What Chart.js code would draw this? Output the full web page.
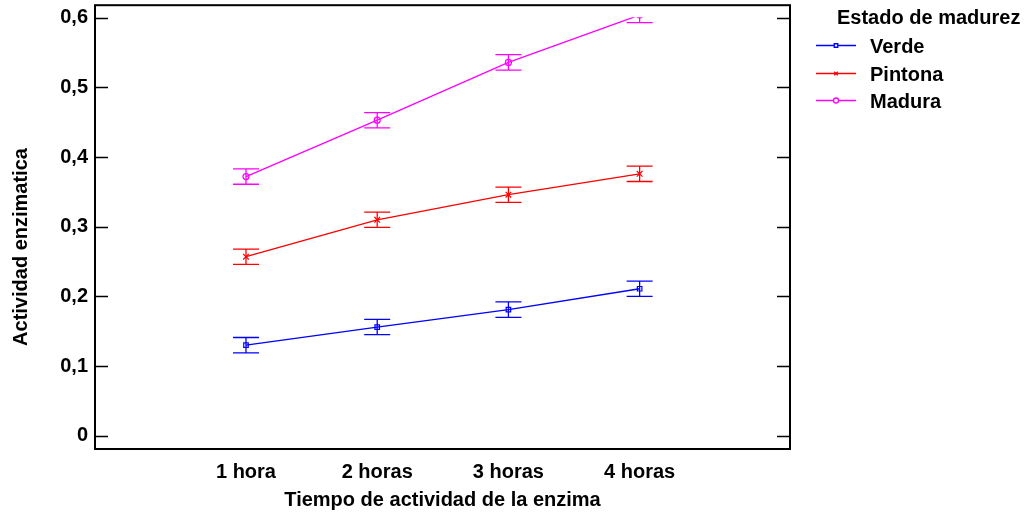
<!DOCTYPE html>
<html>
<head>
<meta charset="utf-8">
<script src="https://cdn.jsdelivr.net/npm/chart.js@4.4.1/dist/chart.umd.min.js"></script>
<style>
  html, body { margin: 0; padding: 0; background: #ffffff; }
  #wrap { width: 1036px; height: 521px; position: relative; }
</style>
</head>
<body>
<div id="wrap"><canvas id="c" width="1036" height="521"></canvas></div>
<script>
// Categories (x axis) and tick labels
const categories = ['1 hora', '2 horas', '3 horas', '4 horas'];
const yTickValues = [0, 0.1, 0.2, 0.3, 0.4, 0.5, 0.6];
const yTickLabels = ['0', '0,1', '0,2', '0,3', '0,4', '0,5', '0,6'];

// Series: mean enzymatic activity per ripeness stage
const seriesNames = ['Verde', 'Pintona', 'Madura'];
const verde   = [0.130, 0.156, 0.181, 0.211];
const pintona = [0.257, 0.310, 0.346, 0.376];
const madura  = [0.372, 0.453, 0.536, 0.604];

// Half-width of the interval around each mean
const verdeErr   = [0.011, 0.011, 0.011, 0.011];
const pintonaErr = [0.011, 0.011, 0.011, 0.011];
const maduraErr  = [0.011, 0.011, 0.011, 0.011];

const FONT = "'Liberation Sans', Arial, sans-serif";

function toPoints(vals, errs) {
  return vals.map((v, i) => ({ x: i, y: v, err: errs[i] }));
}

const colors = ['#0000ff', '#ff0000', '#ff00ff'];
const styles = ['rect', 'crossRot', 'circle'];
const radii = [3.2, 4, 3];

// Values outside the 0..0.6 band are clipped
const innerClip = { left: false, right: false, top: -12, bottom: -12 };

const datasets = [
  [verde, verdeErr],
  [pintona, pintonaErr],
  [madura, maduraErr]
].map(([vals, errs], k) => ({
  label: seriesNames[k],
  data: toPoints(vals, errs),
  borderColor: colors[k],
  backgroundColor: 'rgba(0,0,0,0)',
  borderWidth: 1.3,
  pointStyle: styles[k],
  pointRadius: radii[k],
  pointBorderWidth: 1.2,
  pointBorderColor: colors[k],
  pointBackgroundColor: 'rgba(0,0,0,0)',
  tension: 0,
  clip: innerClip
}));

// Interval bars with caps, frame, inward ticks, y title and legend
const decorations = {
  id: 'decorations',
  beforeDatasetsDraw(chart) {
    const { ctx, chartArea: a, scales: { x, y } } = chart;
    ctx.save();
    ctx.beginPath();
    ctx.rect(a.left, a.top + 12, a.right - a.left, a.bottom - a.top - 24);
    ctx.clip();
    chart.data.datasets.forEach(ds => {
      ctx.strokeStyle = ds.borderColor;
      ctx.lineWidth = 1.3;
      ds.data.forEach(p => {
        const px = x.getPixelForValue(p.x);
        const yt = y.getPixelForValue(p.y + p.err);
        const yb = y.getPixelForValue(p.y - p.err);
        ctx.beginPath();
        ctx.moveTo(px, yt); ctx.lineTo(px, yb);
        ctx.moveTo(px - 13, yt); ctx.lineTo(px + 13, yt);
        ctx.moveTo(px - 13, yb); ctx.lineTo(px + 13, yb);
        ctx.stroke();
      });
    });
    ctx.restore();
  },
  afterDraw(chart) {
    const { ctx, chartArea: a, scales: { y } } = chart;
    ctx.save();
    ctx.strokeStyle = '#000000';
    ctx.lineWidth = 1.3;
    yTickValues.forEach(v => {
      const py = Math.round(y.getPixelForValue(v)) + 0.5;
      ctx.beginPath();
      ctx.moveTo(a.left, py); ctx.lineTo(a.left + 13, py);
      ctx.moveTo(a.right, py); ctx.lineTo(a.right - 13, py);
      ctx.stroke();
    });
    ctx.lineWidth = 2;
    ctx.strokeRect(a.left, a.top, a.right - a.left, a.bottom - a.top);

    // Y axis title
    ctx.fillStyle = '#000000';
    ctx.font = 'bold 20px ' + FONT;
    ctx.textBaseline = 'middle';
    ctx.textAlign = 'center';
    ctx.save();
    ctx.translate(21, 247);
    ctx.rotate(-Math.PI / 2);
    ctx.fillText('Actividad enzimatica', 0, 0);
    ctx.restore();

    // Legend
    ctx.textAlign = 'left';
    ctx.fillText('Estado de madurez', 837, 18);
    const rowsY = [45, 73, 100];
    chart.data.datasets.forEach((ds, k) => {
      const ly = rowsY[k];
      ctx.strokeStyle = ds.borderColor;
      ctx.lineWidth = 1.3;
      ctx.beginPath();
      ctx.moveTo(816, ly + 0.5); ctx.lineTo(856, ly + 0.5);
      ctx.stroke();
      ctx.fillStyle = '#ffffff';
      Chart.helpers.drawPoint(ctx, {
        pointStyle: ds.pointStyle, radius: 2.5, borderWidth: 1.1
      }, 836, ly + 0.5);
      ctx.fillStyle = '#000000';
      ctx.fillText(ds.label, 870, ly + 2);
    });
    ctx.restore();
  }
};

new Chart(document.getElementById('c'), {
  type: 'line',
  data: { datasets },
  options: {
    responsive: false,
    animation: false,
    layout: { padding: { left: 0, right: 246, top: 5, bottom: 0 } },
    plugins: {
      legend: { display: false },
      tooltip: { enabled: false }
    },
    scales: {
      x: {
        type: 'linear',
        min: -1.1507,
        max: 4.146,
        grid: { display: false, drawTicks: false },
        border: { display: false },
        afterBuildTicks: s => { s.ticks = categories.map((_, i) => ({ value: i })); },
        afterFit: s => { s.height = 72; s.paddingLeft = 0; s.paddingRight = 0; },
        ticks: {
          padding: 11,
          color: '#000000',
          font: { family: FONT, size: 20, weight: 'bold' },
          callback: v => categories[v]
        },
        title: {
          display: true,
          text: 'Tiempo de actividad de la enzima',
          color: '#000000',
          font: { family: FONT, size: 20, weight: 'bold' },
          padding: { top: 0, bottom: 9 }
        }
      },
      y: {
        type: 'linear',
        min: -0.0191,
        max: 0.6181,
        grid: { display: false, drawTicks: false },
        border: { display: false },
        afterBuildTicks: s => { s.ticks = yTickValues.map(v => ({ value: v })); },
        afterFit: s => { s.width = 95; s.paddingTop = 0; s.paddingBottom = 0; },
        ticks: {
          padding: 7,
          color: '#000000',
          font: { family: FONT, size: 20, weight: 'bold' },
          callback: (v) => yTickLabels[yTickValues.findIndex(t => Math.abs(t - v) < 1e-9)]
        }
      }
    }
  },
  plugins: [decorations]
});
</script>
</body>
</html>
